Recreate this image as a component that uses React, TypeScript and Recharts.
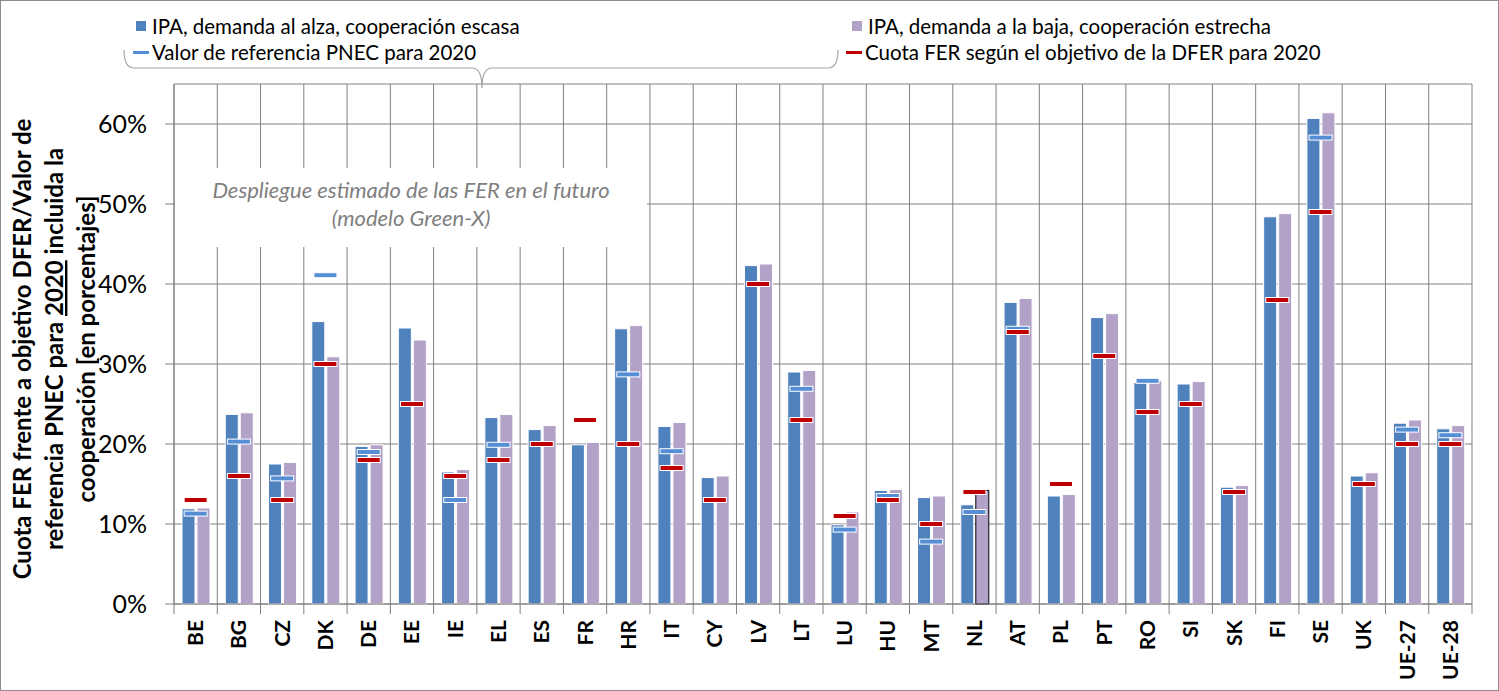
import React from 'react';
import { ComposedChart, Bar, Scatter, XAxis, YAxis, CartesianGrid, Cell } from 'recharts';

// Cuota FER 2020 por país (en %)
const countries = [
  'BE', 'BG', 'CZ', 'DK', 'DE', 'EE', 'IE', 'EL', 'ES', 'FR',
  'HR', 'IT', 'CY', 'LV', 'LT', 'LU', 'HU', 'MT', 'NL', 'AT',
  'PL', 'PT', 'RO', 'SI', 'SK', 'FI', 'SE', 'UK', 'UE-27', 'UE-28',
];
const highDemandLowCoop = [
  11.9, 23.7, 17.5, 35.3, 19.7, 34.5, 16.5, 23.3, 21.8, 19.9,
  34.4, 22.2, 15.8, 42.3, 29.0, 9.9, 14.2, 13.3, 12.4, 37.7,
  13.5, 35.8, 27.7, 27.5, 14.6, 48.4, 60.7, 16.0, 22.6, 21.9,
];
const lowDemandHighCoop = [
  12.0, 23.9, 17.7, 30.9, 19.9, 33.0, 16.8, 23.7, 22.3, 20.2,
  34.8, 22.7, 16.0, 42.5, 29.2, 11.5, 14.3, 13.5, 14.2, 38.2,
  13.7, 36.3, 27.9, 27.8, 14.8, 48.8, 61.4, 16.4, 23.0, 22.3,
];
const pnecReference = [
  11.3, 20.3, 15.7, 41.1, 19.0, null, 13.0, 19.9, null, null,
  28.7, 19.1, null, null, 26.9, 9.3, 13.5, 7.8, 11.5, 34.4,
  null, null, 27.9, null, null, null, 58.3, null, 21.8, 21.1,
];
const dferTarget = [
  13, 16, 13, 30, 18, 25, 16, 18, 20, 23,
  20, 17, 13, 40, 23, 11, 13, 10, 14, 34,
  15, 31, 24, 25, 14, 38, 49, 15, 20, 20,
];
const yTicks = [0, 10, 20, 30, 40, 50, 60];

const BLUE = '#4F81BD';
const PURPLE = '#B3A2C7';
const MARK_BLUE = '#558ED5';
const MARK_RED = '#C00000';
const GRID = '#808080';
const FONT = 'Lato, "Open Sans", sans-serif';

const legendItems = [
  { label: 'IPA, demanda al alza, cooperación escasa', color: BLUE, kind: 'box', left: 136, top: 26 },
  { label: 'IPA, demanda a la baja, cooperación estrecha', color: PURPLE, kind: 'box', left: 852, top: 26 },
  { label: 'Valor de referencia PNEC para 2020', color: MARK_BLUE, kind: 'dash', left: 133, top: 52 },
  { label: 'Cuota FER según el objetivo de la DFER para 2020', color: MARK_RED, kind: 'dash', left: 846, top: 52 },
];

const data = countries.map((name, i) => ({
  name,
  high: highDemandLowCoop[i],
  low: lowDemandHighCoop[i],
  pnec: pnecReference[i],
  dfer: dferTarget[i],
}));

const W = 1499;
const H = 691;
const Y_AXIS_W = 174;
const X_AXIS_H = 87;
const PLOT_W = W - Y_AXIS_W - 27;

const CountryTick = (props: any) => {
  const { x, y, payload, index } = props;
  const band = PLOT_W / countries.length;
  const tx = x + 7.5;
  const ty = y + 16;
  return (
    <g>
      <line x1={x - band / 2} x2={x - band / 2} y1={y} y2={y + 10} stroke={GRID} />
      {index === countries.length - 1 && (
        <line x1={x + band / 2} x2={x + band / 2} y1={y} y2={y + 10} stroke={GRID} />
      )}
      <text
        x={tx}
        y={ty}
        transform={`rotate(-90, ${tx}, ${ty})`}
        textAnchor="end"
        fontFamily={FONT}
        fontWeight="bold"
        fontSize={21}
        fill="#000"
      >
        {payload.value}
      </text>
    </g>
  );
};

const marker = (key: string, color: string) => (props: any) => {
  const { cx, cy, payload } = props;
  if (!payload || payload[key] == null) return <g />;
  return <rect x={cx - 11.5} y={cy - 2.5} width={23} height={5} fill={color} stroke="#fff" strokeWidth={1} />;
};

const boundaries = ({ offset }: any) => {
  const left = offset ? offset.left : Y_AXIS_W;
  const width = offset ? offset.width : PLOT_W;
  const band = width / countries.length;
  return countries.map((_, i) => left + i * band).concat(left + width);
};

export default function App() {
  return (
    <div
      style={{
        position: 'absolute',
        left: 0,
        top: 0,
        width: W,
        height: H,
        background: '#fff',
        outline: '1px solid #8c8c8c',
        outlineOffset: -1,
        fontFamily: FONT,
      }}
    >
      <ComposedChart width={W} height={H} data={data} margin={{ top: 84, right: 27, bottom: 0, left: 0 }} barGap={2}>
        <CartesianGrid stroke={GRID} verticalCoordinatesGenerator={boundaries} />
        <XAxis
          dataKey="name"
          interval={0}
          height={X_AXIS_H}
          tickLine={false}
          tickSize={0}
          tickMargin={0}
          axisLine={{ stroke: GRID }}
          tick={<CountryTick />}
        />
        <YAxis
          width={Y_AXIS_W}
          domain={[0, 65]}
          ticks={yTicks}
          tickFormatter={(v) => `${v}%`}
          tickSize={9}
          tickMargin={18}
          axisLine={{ stroke: GRID }}
          tickLine={{ stroke: GRID }}
          tick={{ fontSize: 25, fill: '#000', fontFamily: FONT }}
        />
        <Bar dataKey="high" fill={BLUE} stroke="#fff" strokeWidth={1} barSize={13} isAnimationActive={false} />
        <Bar dataKey="low" fill={PURPLE} stroke="#fff" strokeWidth={1} barSize={13} isAnimationActive={false}>
          {data.map((d) => (
            <Cell key={d.name} stroke={d.name === 'NL' ? '#000' : '#fff'} />
          ))}
        </Bar>
        <Scatter dataKey="pnec" shape={marker('pnec', MARK_BLUE)} isAnimationActive={false} />
        <Scatter dataKey="dfer" shape={marker('dfer', MARK_RED)} isAnimationActive={false} />
      </ComposedChart>

      <svg width={W} height={H} style={{ position: 'absolute', left: 0, top: 0, pointerEvents: 'none' }}>
        <path
          d="M124,50 Q124,68 134,68 L472,68 Q482,68 482,88 Q482,68 492,68 L828,68 Q838,68 838,50"
          fill="none"
          stroke="#A6A6A6"
          strokeWidth={1.2}
        />
        <g fontFamily={FONT} fontWeight="bold" fontSize={24} fill="#000" textAnchor="middle">
          <text transform="translate(31, 349) rotate(-90)">Cuota FER frente a objetivo DFER/Valor de</text>
          <text transform="translate(63, 349) rotate(-90)">
            referencia PNEC para <tspan textDecoration="underline">2020</tspan> incluida la
          </text>
          <text transform="translate(95, 349) rotate(-90)">cooperación [en porcentajes]</text>
        </g>
      </svg>

      {legendItems.map((it) => (
        <div key={it.label} style={{ position: 'absolute', left: it.left, top: it.top - 13, height: 26, display: 'flex', alignItems: 'center' }}>
          {it.kind === 'box' ? (
            <span style={{ width: 10, height: 10, background: it.color, display: 'inline-block', marginRight: 6 }} />
          ) : (
            <span style={{ width: 16, height: 3, background: it.color, display: 'inline-block', marginRight: 3 }} />
          )}
          <span style={{ fontSize: 20.5, color: '#000', whiteSpace: 'nowrap' }}>{it.label}</span>
        </div>
      ))}

      <div
        style={{
          position: 'absolute',
          left: 175,
          top: 168,
          width: 472,
          height: 79,
          background: '#fff',
          textAlign: 'center',
          color: '#7F7F7F',
          fontStyle: 'italic',
          fontSize: 22,
          lineHeight: '28px',
          paddingTop: 8,
          boxSizing: 'border-box',
        }}
      >
        Despliegue estimado de las FER en el futuro
        <br />
        (modelo Green-X)
      </div>
    </div>
  );
}
